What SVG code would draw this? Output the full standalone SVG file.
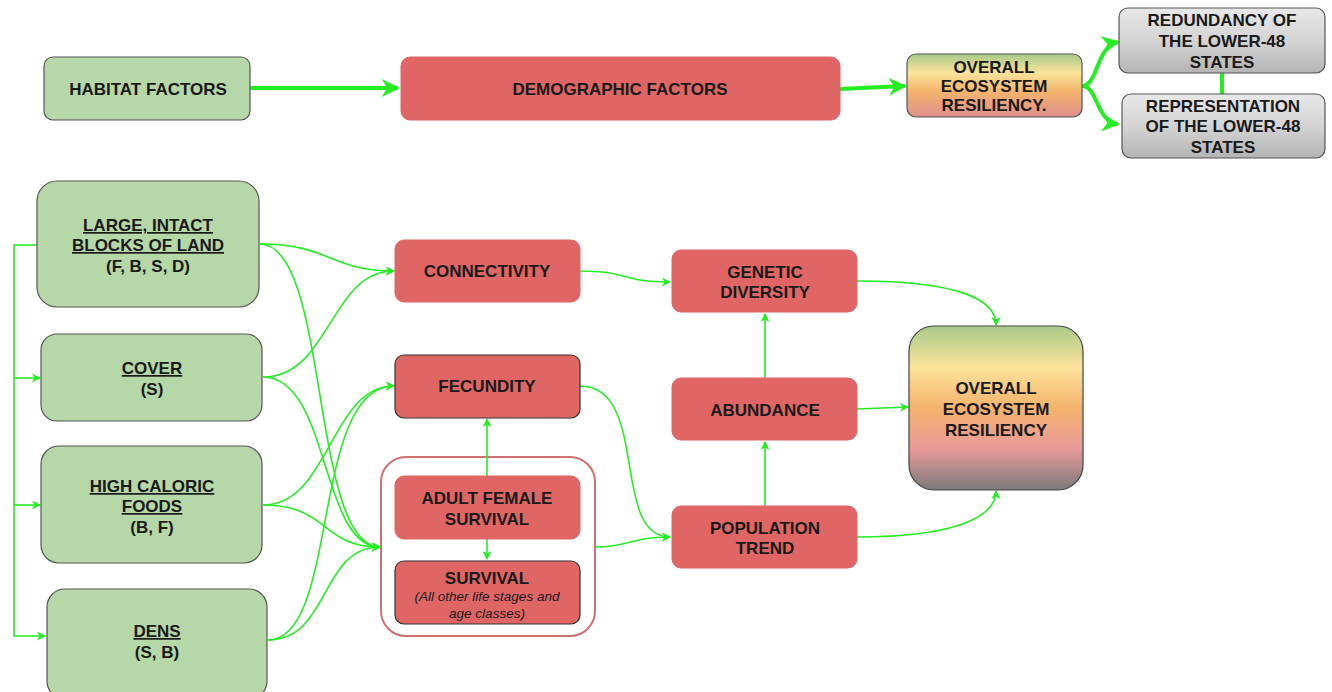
<svg xmlns="http://www.w3.org/2000/svg" width="1332" height="692" viewBox="0 0 1332 692">
<style>
.g{fill:#b6d7a8;stroke:#555;stroke-width:1.2}
.r{fill:#e06666;stroke:#e06666;stroke-width:1}
.rd{fill:#e06666;stroke:#333;stroke-width:1.2}
.gr{fill:url(#grey);stroke:#555;stroke-width:1.2}
.t{font-family:"Liberation Sans",Arial,sans-serif;font-weight:bold;font-size:17px;fill:#1a1a1a;text-anchor:middle}
.u{text-decoration:underline}
.i{font-weight:normal;font-style:italic;font-size:13.5px}
.c{fill:none;stroke:#22ee22;stroke-width:1.6}
.ct{fill:none;stroke:#22ee22;stroke-width:4}
</style>
<defs>
<marker id="a" viewBox="0 0 10 10" refX="9" refY="5" markerWidth="9" markerHeight="9" markerUnits="userSpaceOnUse" orient="auto"><path d="M0,0 L10,5 L0,10 L3,5 Z" fill="#22ee22"/></marker>
<marker id="A" viewBox="0 0 10 10" refX="9" refY="5" markerWidth="18" markerHeight="18" markerUnits="userSpaceOnUse" orient="auto"><path d="M0,0 L10,5 L0,10 L3,5 Z" fill="#22ee22"/></marker>
<linearGradient id="oer" x1="0" y1="0" x2="0" y2="1">
<stop offset="0" stop-color="#a9c98a"/>
<stop offset="0.25" stop-color="#fbe39a"/>
<stop offset="0.5" stop-color="#f4b36c"/>
<stop offset="0.75" stop-color="#e89999"/>
<stop offset="1" stop-color="#7a7a7a"/>
</linearGradient>
<linearGradient id="oers" x1="0" y1="0" x2="0" y2="1">
<stop offset="0" stop-color="#a9c98a"/>
<stop offset="0.3" stop-color="#fbe39a"/>
<stop offset="0.6" stop-color="#f4b36c"/>
<stop offset="1" stop-color="#df8f8f"/>
</linearGradient>
<linearGradient id="grey" x1="0" y1="0" x2="0" y2="1">
<stop offset="0" stop-color="#e8e8e8"/>
<stop offset="0.5" stop-color="#d4d4d4"/>
<stop offset="1" stop-color="#b4b4b4"/>
</linearGradient>
</defs>

<g id="survival-group">
<rect x="381" y="457" width="214" height="179" rx="25" fill="#fff" stroke="#d07070" stroke-width="2"/>
</g>

<g id="connectors">
<path class="ct" d="M250,88 L398,88" marker-end="url(#A)"/>
<path class="ct" d="M840,89 L905,86" marker-end="url(#A)"/>
<path class="ct" d="M1082,86 C1098,86 1096,46 1118,42" marker-end="url(#A)"/>
<path class="ct" d="M1082,86 C1098,86 1096,122 1118,124" marker-end="url(#A)"/>
<path class="ct" d="M1222,73 L1222,94"/>

<path class="c" d="M37,245 L14,245 L14,636 L45,636" marker-end="url(#a)"/>
<path class="c" d="M14,378 L40,378" marker-end="url(#a)"/>
<path class="c" d="M14,505 L40,505" marker-end="url(#a)"/>

<path class="c" d="M260,244 C330,244 330,271 394,271" marker-end="url(#a)"/>
<path class="c" d="M260,244 C330,244 310,547 380,547" marker-end="url(#a)"/>
<path class="c" d="M263,377 C330,377 330,271 394,271" marker-end="url(#a)"/>
<path class="c" d="M263,377 C330,377 320,547 380,547" marker-end="url(#a)"/>
<path class="c" d="M263,505 C330,505 330,386 394,386" marker-end="url(#a)"/>
<path class="c" d="M263,505 C330,505 320,547 380,547" marker-end="url(#a)"/>
<path class="c" d="M268,640 C340,640 310,386 394,386" marker-end="url(#a)"/>
<path class="c" d="M268,640 C330,640 320,547 380,547" marker-end="url(#a)"/>

<path class="c" d="M487,476 L487,419" marker-end="url(#a)"/>
<path class="c" d="M487,539 L487,559" marker-end="url(#a)"/>

<path class="c" d="M580,271 C630,271 620,282 670,282" marker-end="url(#a)"/>
<path class="c" d="M580,386 C650,386 610,537 670,537" marker-end="url(#a)"/>
<path class="c" d="M596,547 C630,547 630,537 670,537" marker-end="url(#a)"/>
<path class="c" d="M765,506 L765,442" marker-end="url(#a)"/>
<path class="c" d="M765,378 L765,314" marker-end="url(#a)"/>
<path class="c" d="M857,281 C960,281 996,300 996,325" marker-end="url(#a)"/>
<path class="c" d="M857,409 L908,407" marker-end="url(#a)"/>
<path class="c" d="M857,537 C960,537 996,515 996,491" marker-end="url(#a)"/>
</g>

<g id="habitat-factors">
<rect class="g" x="44" y="57" width="206" height="63" rx="9"/>
<text class="t" x="148" y="95" font-size="18">HABITAT FACTORS</text>
</g>
<g id="demographic-factors">
<rect class="r" x="401" y="57" width="439" height="63" rx="9" stroke="#555"/>
<text class="t" x="620" y="95" font-size="18">DEMOGRAPHIC FACTORS</text>
</g>
<g id="oer-small">
<rect x="907" y="54" width="175" height="63" rx="9" fill="url(#oers)" stroke="#555" stroke-width="1.2"/>
<text class="t" x="994" y="73">OVERALL</text>
<text class="t" x="994" y="92">ECOSYSTEM</text>
<text class="t" x="994" y="111">RESILIENCY.</text>
</g>
<g id="redundancy">
<rect class="gr" x="1119" y="8" width="206" height="65" rx="9"/>
<text class="t" x="1222" y="26">REDUNDANCY OF</text>
<text class="t" x="1222" y="47">THE LOWER-48</text>
<text class="t" x="1222" y="68">STATES</text>
</g>
<g id="representation">
<rect class="gr" x="1122" y="94" width="203" height="64" rx="9"/>
<text class="t" x="1223" y="112">REPRESENTATION</text>
<text class="t" x="1223" y="132">OF THE LOWER-48</text>
<text class="t" x="1223" y="153">STATES</text>
</g>

<g id="large-blocks">
<rect class="g" x="37" y="181" width="222" height="126" rx="20"/>
<text class="t u" x="148" y="231">LARGE, INTACT</text>
<text class="t u" x="148" y="251">BLOCKS OF LAND</text>
<text class="t" x="148" y="272">(F, B, S, D)</text>
</g>
<g id="cover">
<rect class="g" x="41" y="334" width="221" height="87" rx="16"/>
<text class="t u" x="152" y="374">COVER</text>
<text class="t" x="152" y="395">(S)</text>
</g>
<g id="high-caloric">
<rect class="g" x="41" y="446" width="221" height="117" rx="18"/>
<text class="t u" x="152" y="492">HIGH CALORIC</text>
<text class="t u" x="152" y="512">FOODS</text>
<text class="t" x="152" y="533">(B, F)</text>
</g>
<g id="dens">
<rect class="g" x="47" y="589" width="220" height="110" rx="18"/>
<text class="t u" x="157" y="637">DENS</text>
<text class="t" x="157" y="658">(S, B)</text>
</g>

<g id="connectivity">
<rect class="r" x="395" y="240" width="185" height="62" rx="9"/>
<text class="t" x="487" y="277">CONNECTIVITY</text>
</g>
<g id="fecundity">
<rect class="rd" x="395" y="355" width="185" height="63" rx="9"/>
<text class="t" x="487" y="392">FECUNDITY</text>
</g>
<g id="adult-female-survival">
<rect class="r" x="395" y="476" width="185" height="63" rx="9"/>
<text class="t" x="487" y="504">ADULT FEMALE</text>
<text class="t" x="487" y="525">SURVIVAL</text>
</g>
<g id="survival">
<rect class="rd" x="395" y="561" width="185" height="63" rx="9"/>
<text class="t" x="487" y="584">SURVIVAL</text>
<text class="t i" x="487" y="601">(All other life stages and</text>
<text class="t i" x="487" y="618">age classes)</text>
</g>

<g id="genetic-diversity">
<rect class="r" x="672" y="250" width="185" height="62" rx="9"/>
<text class="t" x="765" y="278">GENETIC</text>
<text class="t" x="765" y="298">DIVERSITY</text>
</g>
<g id="abundance">
<rect class="r" x="672" y="378" width="185" height="62" rx="9"/>
<text class="t" x="765" y="416">ABUNDANCE</text>
</g>
<g id="population-trend">
<rect class="r" x="672" y="506" width="185" height="62" rx="9"/>
<text class="t" x="765" y="534">POPULATION</text>
<text class="t" x="765" y="554">TREND</text>
</g>
<g id="oer-large">
<rect x="909" y="326" width="174" height="164" rx="25" fill="url(#oer)" stroke="#444" stroke-width="1.2"/>
<text class="t" x="996" y="394">OVERALL</text>
<text class="t" x="996" y="415">ECOSYSTEM</text>
<text class="t" x="996" y="436">RESILIENCY</text>
</g>
</svg>
